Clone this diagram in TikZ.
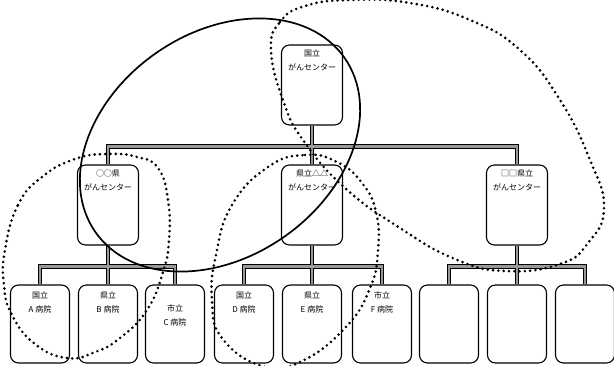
\documentclass[tikz,border=0pt]{standalone}
\usepackage{fontspec}
\newfontfamily\jfont{Noto Sans CJK JP}
\usetikzlibrary{positioning,backgrounds}
\tikzset{
  org/.style={draw,line width=1.1pt,rounded corners=8pt,minimum width=61pt,
              minimum height=80pt,inner sep=0pt},
  hosp/.style={org,minimum width=59pt,minimum height=78pt},
  orgtxt/.style={anchor=north,align=center,inner sep=0pt,
                 font=\jfont\fontsize{8}{14}\selectfont},
  dots/.style={line width=2.9pt,line cap=round,dash pattern=on 0pt off 5.3pt},
  ring/.style={line width=1.7pt},
}
\begin{document}
\begin{tikzpicture}[x=1pt,y=-1pt]
\useasboundingbox (0,0) rectangle (614,365);
% national centre
\node[org] (nc) at (312,85) {};
% prefectural centres
\node[org] (pa) at (108,205) {};
\node[org] (pb) at (312,205) {};
\node[org] (pc) at (517,205) {};
% hospitals
\node[hosp] (ha) at (40,324) {};
\node[hosp] (hb) at (108,324) {};
\node[hosp] (hc) at (175,324) {};
\node[hosp] (hd) at (244,324) {};
\node[hosp] (he) at (312,324) {};
\node[hosp] (hf) at (382,324) {};
\node[hosp] (hg) at (449,324) {};
\node[hosp] (hh) at (517,324) {};
\node[hosp] (hi) at (585,324) {};

\node[orgtxt] (nct) at ([yshift=-5pt]nc.north) {国立\\がんセンター};
\node[orgtxt] (pat) at ([yshift=-5pt]pa.north) {○○県\\がんセンター};
\node[orgtxt] (pbt) at ([yshift=-5pt]pb.north) {県立△△\\がんセンター};
\node[orgtxt] (pct) at ([yshift=-5pt]pc.north) {□□県立\\がんセンター};
\node[orgtxt] (hat) at ([yshift=-7pt]ha.north) {国立\\A 病院};
\node[orgtxt] (hbt) at ([yshift=-7pt]hb.north) {県立\\B 病院};
\node[orgtxt] (hct) at ([yshift=-20pt]hc.north) {市立\\C 病院};
\node[orgtxt] (hdt) at ([yshift=-7pt]hd.north) {国立\\D 病院};
\node[orgtxt] (het) at ([yshift=-7pt]he.north) {県立\\E 病院};
\node[orgtxt] (hft) at ([yshift=-7pt]hf.north) {市立\\F 病院};

% connecting bars: dark rim, grey core
\begin{scope}[on background layer]
\foreach \w/\c in {4.8pt/black,2.4pt/black!40}{
  \draw[line width=\w,draw=\c] (nc.south) -- (pb.north);
  \draw[line width=\w,draw=\c] (pa.north) -- ++(0,-18) -| (pc.north);
  \draw[line width=\w,draw=\c] (pa.south) -- (hb.north);
  \draw[line width=\w,draw=\c] (ha.north) -- ++(0,-18) -| (hc.north);
  \draw[line width=\w,draw=\c] (pb.south) -- (he.north);
  \draw[line width=\w,draw=\c] (hd.north) -- ++(0,-18) -| (hf.north);
  \draw[line width=\w,draw=\c] (pc.south) -- (hh.north);
  \draw[line width=\w,draw=\c] (hg.north) -- ++(0,-18) -| (hi.north);
}
\end{scope}

% groupings
\draw[ring,rotate around={35:(220,145)}] (220,145) ellipse [x radius=152,y radius=112];
\draw[dots] plot[smooth cycle,tension=0.8] coordinates {(271,50) (280,22) (305,6)
  (350,0) (410,3) (470,20) (520,50) (560,100) (590,160) (604,208) (588,243)
  (560,264) (505,271) (455,259) (400,228) (345,188) (303,140) (283,100)};
\draw[dots] plot[smooth cycle,tension=0.8] coordinates {(5,250) (18,205) (42,177)
  (75,159) (108,154) (137,157) (158,168) (168,200) (169,240) (163,272) (147,310)
  (120,338) (95,352) (67,358) (35,344) (12,315) (4,285)};
\draw[dots] plot[smooth cycle,tension=0.8] coordinates {(268,167) (305,155) (337,162)
  (362,183) (376,212) (378,250) (370,288) (345,328) (300,362) (262,366)
  (222,338) (212,300) (216,255) (232,205)};
\end{tikzpicture}
\end{document}
